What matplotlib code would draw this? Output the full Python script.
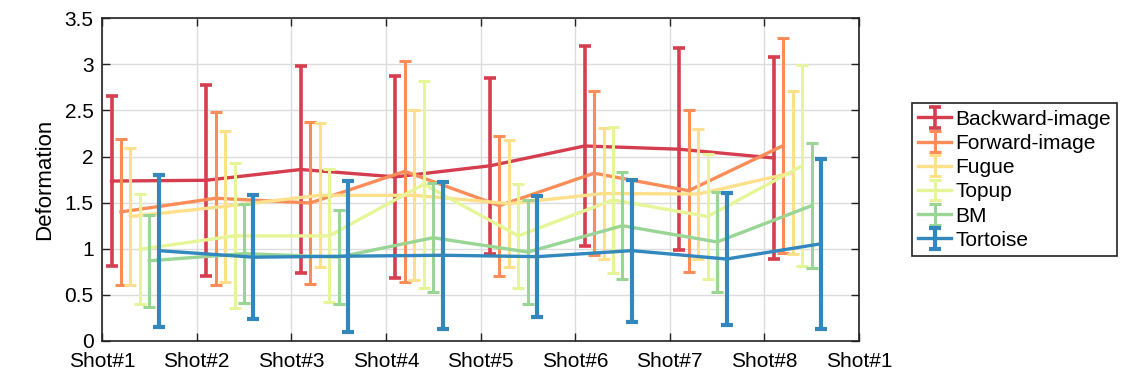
import matplotlib
matplotlib.use("Agg")
import matplotlib.pyplot as plt
import numpy as np

plt.rcParams['font.family'] = ['Liberation Sans', 'DejaVu Sans']

shots = ["Shot#1", "Shot#2", "Shot#3", "Shot#4", "Shot#5", "Shot#6", "Shot#7", "Shot#8", "Shot#1"]
yticks = [0, 0.5, 1, 1.5, 2, 2.5, 3, 3.5]
ytick_labels = ["0", "0.5", "1", "1.5", "2", "2.5", "3", "3.5"]

series_names = ["Backward-image", "Forward-image", "Fugue", "Topup", "BM", "Tortoise"]
colors = ["#d53e4f", "#fc8d59", "#fee08b", "#e6f598", "#99d594", "#3288bd"]

backward_mean = [1.735, 1.743, 1.86, 1.78, 1.90, 2.115, 2.08, 1.985]
backward_std = [0.925, 1.035, 1.12, 1.095, 0.956, 1.08, 1.095, 1.10]
forward_mean = [1.40, 1.548, 1.497, 1.84, 1.468, 1.82, 1.63, 2.12]
forward_std = [0.79, 0.94, 0.88, 1.20, 0.76, 0.89, 0.88, 1.165]
fugue_mean = [1.35, 1.46, 1.58, 1.58, 1.49, 1.60, 1.594, 1.826]
fugue_std = [0.74, 0.82, 0.78, 0.92, 0.69, 0.71, 0.70, 0.88]
topup_mean = [0.995, 1.14, 1.14, 1.70, 1.14, 1.53, 1.35, 1.90]
topup_std = [0.595, 0.786, 0.72, 1.12, 0.56, 0.79, 0.68, 1.09]
bm_mean = [0.87, 0.947, 0.91, 1.12, 0.965, 1.25, 1.074, 1.468]
bm_std = [0.50, 0.54, 0.506, 0.59, 0.56, 0.58, 0.546, 0.676]
tortoise_mean = [0.98, 0.909, 0.92, 0.93, 0.915, 0.98, 0.889, 1.055]
tortoise_std = [0.823, 0.674, 0.82, 0.795, 0.66, 0.77, 0.715, 0.92]

means = [backward_mean, forward_mean, fugue_mean, topup_mean, bm_mean, tortoise_mean]
stds = [backward_std, forward_std, fugue_std, topup_std, bm_std, tortoise_std]
elwidths = [2.6, 2.2, 2.2, 2.2, 2.2, 3.0]

fig = plt.figure(figsize=(11.34, 3.89), dpi=100)
ax = fig.add_axes([0.09, 0.1234, 0.6675, 0.8296])

base = np.arange(1, 9)
for k, (name, c, m, s) in enumerate(zip(series_names, colors, means, stds)):
    x = base + 0.1 * (k + 1)
    ax.errorbar(x, m, yerr=s, color=c, lw=2.4, elinewidth=elwidths[k],
                capsize=4, capthick=elwidths[k], label=name, zorder=3 + k)

ax.set_xlim(1, 9)
ax.set_ylim(0, 3.5)
ax.set_xticks(np.arange(1, 10))
ax.set_xticklabels(shots, fontsize=15)
ax.set_yticks(yticks)
ax.set_yticklabels(ytick_labels, fontsize=15)
ax.set_ylabel("Deformation", fontsize=16, labelpad=7)
ax.grid(True, color="#dcdcdc", lw=1)
ax.set_axisbelow(True)
ax.tick_params(direction='in', length=6, width=1, top=True, right=True, color="#222222")
ax.tick_params(axis='x', pad=8)
ax.tick_params(axis='y', pad=6)
for sp in ax.spines.values():
    sp.set_color("#222222")
    sp.set_linewidth(1.2)

leg = fig.legend(loc='upper left', bbox_to_anchor=(0.804, 0.734), fontsize=15,
                 fancybox=False, edgecolor="#222222", framealpha=1,
                 labelspacing=0.25, handlelength=1.6, handletextpad=0.2,
                 borderpad=0.3, borderaxespad=0)
leg.get_frame().set_linewidth(1.2)

fig.savefig("out.png", dpi=100)
